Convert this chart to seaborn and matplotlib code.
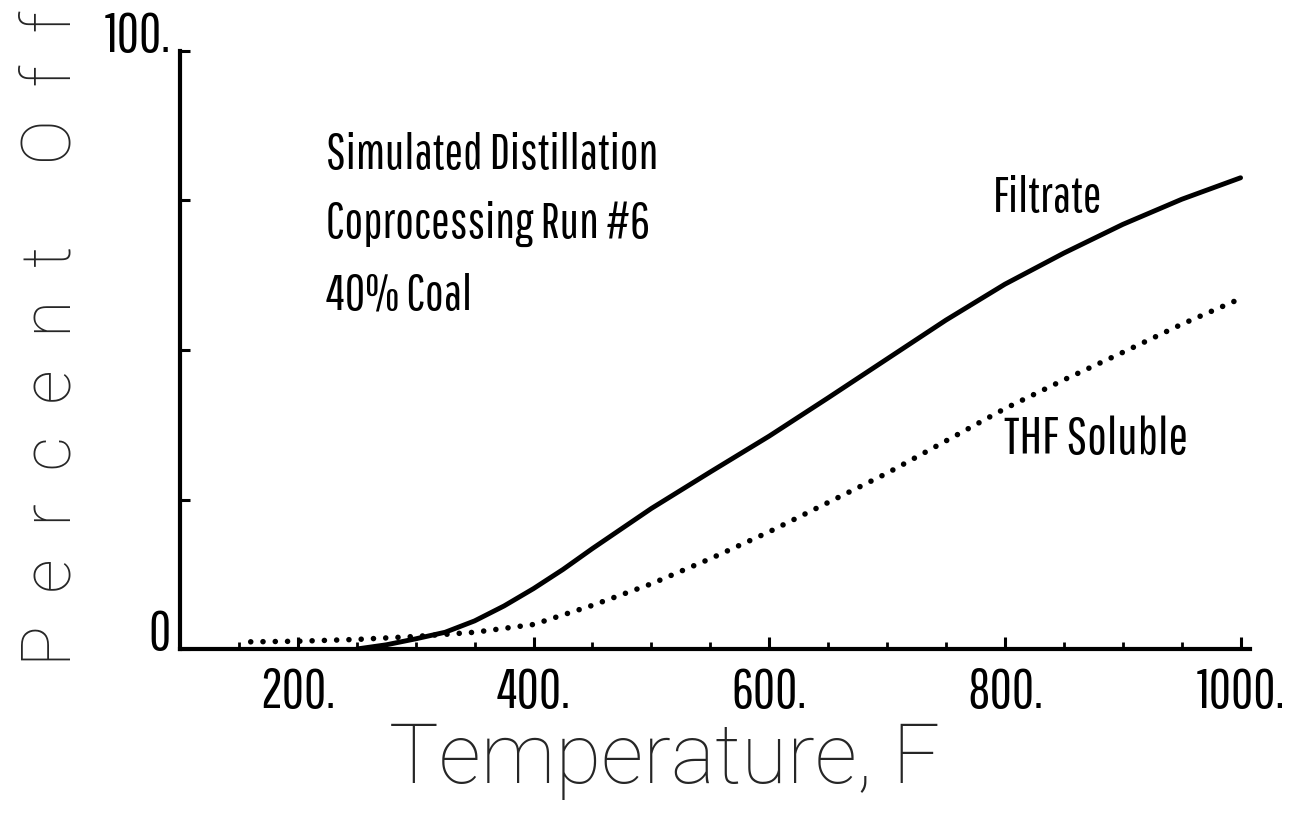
import matplotlib
matplotlib.use("Agg")
import matplotlib.pyplot as plt
import seaborn as sns
import pandas as pd

# Simulated distillation curves, percent off vs. temperature (F)
filtrate_temp = [250, 275, 300, 325, 350, 375, 400, 425, 450, 500, 550,
                 600, 650, 700, 750, 800, 850, 900, 950, 1000]
filtrate_pct = [0.0, 0.7, 1.7, 2.8, 4.7, 7.2, 10.1, 13.3, 16.8, 23.5, 29.6,
                35.6, 42.0, 48.5, 55.0, 61.0, 66.2, 71.0, 75.2, 78.8]

thf_temp = [160, 200, 250, 300, 350, 400, 450, 500, 550, 600, 650,
            700, 750, 800, 850, 900, 950, 1000]
thf_pct = [1.2, 1.3, 1.6, 2.1, 2.8, 4.1, 7.3, 10.9, 15.1, 19.6, 24.5,
           29.4, 34.8, 40.2, 45.0, 49.6, 54.3, 58.6]

x_major = [200, 400, 600, 800, 1000]
x_major_labels = ["200.", "400.", "600.", "800.", "1000."]
x_minor = [150, 250, 300, 350, 450, 500, 550, 650, 700, 750, 850, 900, 950]
y_ticks = [0, 25, 50, 75, 100]
y_tick_labels = ["0", "", "", "", "100."]

note_lines = ["Simulated Distillation", "Coprocessing Run #6", "40% Coal"]

sns.set_style("ticks")
narrow = ["Pathway Gothic One", "Oswald", "Roboto Condensed", "DejaVu Sans"]
thin = ["Roboto", "DejaVu Sans"]
plt.rcParams["font.family"] = narrow
plt.rcParams["text.color"] = "black"
plt.rcParams["xtick.labelcolor"] = "black"
plt.rcParams["ytick.labelcolor"] = "black"

filtrate = pd.DataFrame({"temp": filtrate_temp, "pct": filtrate_pct})
thf = pd.DataFrame({"temp": thf_temp, "pct": thf_pct})

fig = plt.figure(figsize=(12.93, 8.28), dpi=100)
ax = fig.add_axes([180 / 1293, 1 - 650 / 828, 1070 / 1293, 598 / 828])
renderer = fig.canvas.get_renderer()


def fit_width(text, width_px):
    """Scale a text's font size so that its box is width_px wide."""
    w = text.get_window_extent(renderer).width
    text.set_fontsize(text.get_fontsize() * width_px / w)
    return text.get_fontsize()


sns.lineplot(data=filtrate, x="temp", y="pct", ax=ax, color="black",
             linewidth=3.5, solid_capstyle="round")
sns.lineplot(data=thf, x="temp", y="pct", ax=ax, color="black",
             linewidth=4.0, linestyle=(0, (0.01, 2.2)),
             dash_capstyle="round")

ax.set_xlim(100, 1008)
ax.set_ylim(0, 100)
sns.despine(ax=ax)
for side in ("left", "bottom"):
    ax.spines[side].set_linewidth(3.0)
    ax.spines[side].set_color("black")

# size the plotter-style lettering from one tick word
probe = ax.text(0, 0, "400.", fontsize=30)
tick_size = fit_width(probe, 74)
probe.remove()

ax.set_xticks(x_major)
ax.set_xticklabels(x_major_labels)
ax.set_xticks(x_minor, minor=True)
ax.set_yticks(y_ticks)
ax.set_yticklabels(y_tick_labels)
ax.tick_params(axis="x", which="major", direction="in", length=9, width=2.2,
               pad=12, labelsize=tick_size, color="black")
ax.tick_params(axis="x", which="minor", direction="in", length=5, width=2.0,
               color="black")
ax.tick_params(axis="y", which="major", direction="in", length=7, width=2.2,
               pad=7, labelsize=tick_size, color="black")
for lab in ax.get_yticklabels():
    lab.set_verticalalignment("baseline")

ax.set_xlabel("Temperature, F", fontsize=60, family=thin, fontweight="light")
ax.xaxis.set_label_coords(0.453, -0.118)
ax.set_ylabel("P  e  r  c  e  n  t     O  f  f", fontsize=49, family=thin,
              fontweight="light")
ax.yaxis.set_label_coords(-0.089, 0.52)

notes = [ax.text(224, y, line, fontsize=30, va="baseline", ha="left")
         for y, line in zip([80.4, 68.9, 56.9], note_lines)]
note_size = fit_width(notes[0], 333)
for t in notes[1:]:
    t.set_fontsize(note_size)

ax.text(790, 73.2, "Filtrate", fontsize=note_size, va="baseline", ha="left")
ax.text(799, 32.8, "THF Soluble", fontsize=note_size * 1.05, va="baseline",
        ha="left")

fig.savefig("out.png", dpi=100, facecolor="white")
